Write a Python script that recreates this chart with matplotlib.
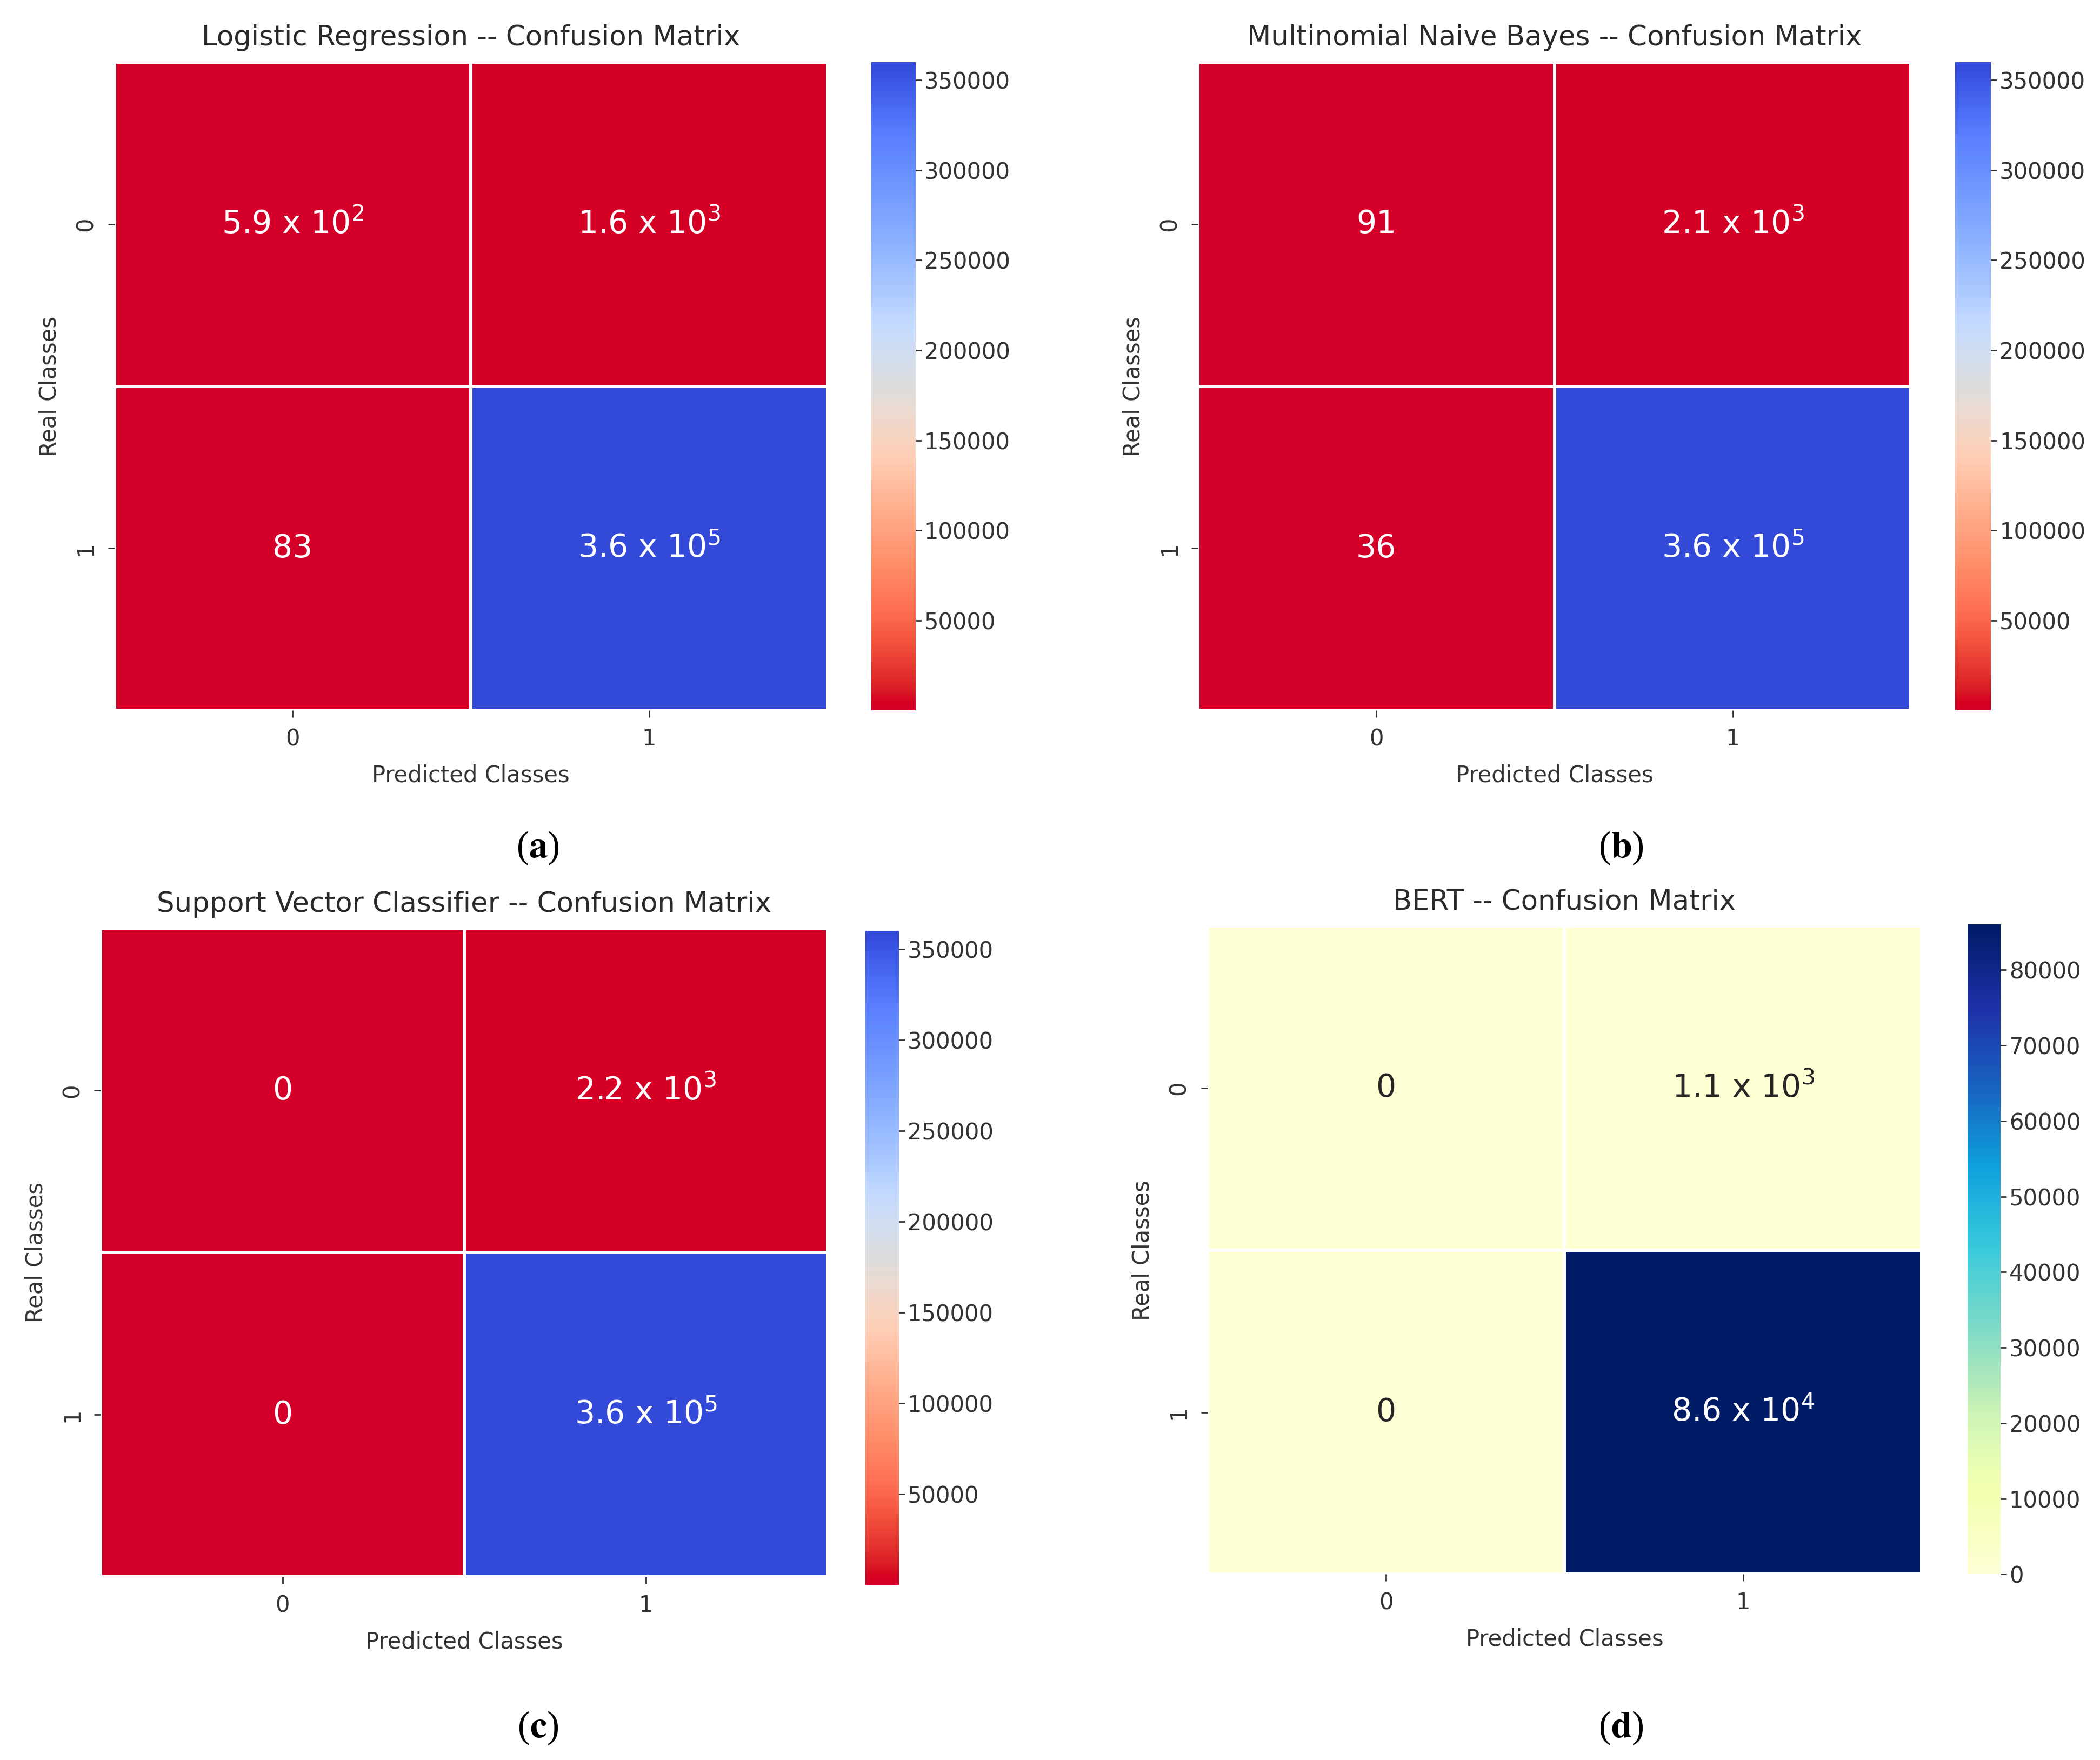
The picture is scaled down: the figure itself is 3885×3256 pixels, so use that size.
import numpy as np
import matplotlib
matplotlib.use("Agg")
import matplotlib.pyplot as plt
from matplotlib.colors import ListedColormap, rgb_to_hsv, hsv_to_rgb
import seaborn as sns

# confusion matrices
lr_cm = [[590, 1600], [83, 360000]]
lr_txt = [["5.9 x $10^{2}$", "1.6 x $10^{3}$"], ["83", "3.6 x $10^{5}$"]]

nb_cm = [[91, 2100], [36, 360000]]
nb_txt = [["91", "2.1 x $10^{3}$"], ["36", "3.6 x $10^{5}$"]]

svc_cm = [[0, 2200], [0, 360000]]
svc_txt = [["0", "2.2 x $10^{3}$"], ["0", "3.6 x $10^{5}$"]]

bert_cm = [[0, 1100], [0, 86000]]
bert_txt = [["0", "1.1 x $10^{3}$"], ["0", "8.6 x $10^{4}$"]]

titles = ["Logistic Regression -- Confusion Matrix",
          "Multinomial Naive Bayes -- Confusion Matrix",
          "Support Vector Classifier -- Confusion Matrix",
          "BERT -- Confusion Matrix"]
panel_tags = ["a", "b", "c", "d"]

coolwarm_ticks = [50000, 100000, 150000, 200000, 250000, 300000, 350000]
bert_ticks = [0, 10000, 20000, 30000, 40000, 50000, 60000, 70000, 80000]

cms = [lr_cm, nb_cm, svc_cm, bert_cm]
txts = [lr_txt, nb_txt, svc_txt, bert_txt]
cbar_ticks = [coolwarm_ticks, coolwarm_ticks, coolwarm_ticks, bert_ticks]


def punchy(name):
    # the scanned figure has more saturated colours than the stock maps
    rgb = plt.get_cmap(name)(np.linspace(0, 1, 256))[:, :3]
    hsv = rgb_to_hsv(rgb)
    s = hsv[:, 1].copy()
    hsv[:, 1] = np.clip(s * 1.1, 0, 1)
    hsv[:, 2] = np.clip(hsv[:, 2] * (1 + 0.18 * s), 0, 1)
    return ListedColormap(hsv_to_rgb(hsv))


cmaps = [punchy("coolwarm_r"), punchy("coolwarm_r"), punchy("coolwarm_r"), punchy("YlGnBu")]

# axes boxes [left, bottom, width, height] in figure fraction
heat_boxes = [[0.0545, 0.5963, 0.3395, 0.3685],
              [0.5705, 0.5963, 0.3395, 0.3685],
              [0.048, 0.104, 0.346, 0.3685],
              [0.575, 0.1055, 0.340, 0.3685]]
cbar_boxes = [[0.415, 0.5963, 0.021, 0.3685],
              [0.931, 0.5963, 0.017, 0.3685],
              [0.412, 0.0994, 0.016, 0.3716],
              [0.937, 0.1055, 0.0156, 0.3692]]
tag_pos = [(0.256, 0.513), (0.772, 0.513), (0.256, 0.013), (0.772, 0.013)]

fig = plt.figure(figsize=(38.85, 32.56), dpi=100)

for i in range(4):
    ax = fig.add_axes(heat_boxes[i])
    cax = fig.add_axes(cbar_boxes[i])
    sns.heatmap(np.array(cms[i]), annot=np.array(txts[i]), fmt="", cmap=cmaps[i],
                linewidths=3, linecolor="white", ax=ax, cbar_ax=cax,
                cbar_kws={"ticks": cbar_ticks[i]},
                annot_kws={"fontsize": 42})
    ax.set_title(titles[i], fontsize=37, color="#2a2a2a", pad=22)
    ax.set_xlabel("Predicted Classes", fontsize=30, color="#333333", labelpad=18)
    ax.set_ylabel("Real Classes", fontsize=30, color="#333333", labelpad=18)
    ax.tick_params(axis="both", labelsize=30, length=9, width=2, pad=14,
                   colors="#333333")
    ax.set_yticklabels(["0", "1"], rotation=90, va="center")
    cax.tick_params(labelsize=30, length=8, width=2, colors="#333333")
    fig.text(tag_pos[i][0], tag_pos[i][1], "($\\mathbf{" + panel_tags[i] + "}$)",
             ha="center", fontsize=50, family="Liberation Serif",
             math_fontfamily="stix")

fig.savefig("out.png", dpi=100)
